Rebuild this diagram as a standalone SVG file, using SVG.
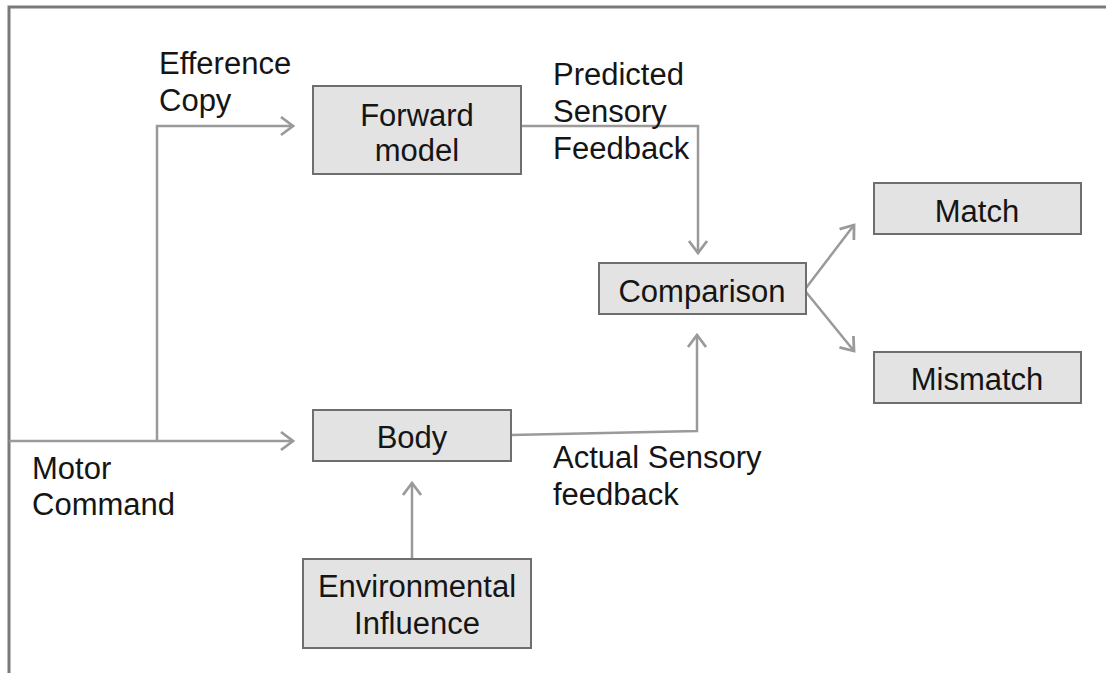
<svg xmlns="http://www.w3.org/2000/svg" width="1106" height="673" viewBox="0 0 1106 673">
<style>
.box{fill:#e3e3e3;stroke:#6e6e6e;stroke-width:2}
.t{font-family:"Liberation Sans",Arial,sans-serif;font-size:31px;fill:#151515}
.c{fill:none;stroke:#9a9a9a;stroke-width:2.5}
</style>
<defs>
<marker id="ah" markerUnits="userSpaceOnUse" markerWidth="20" markerHeight="24" refX="13" refY="10" orient="auto" viewBox="0 0 20 20">
<path d="M1,1 L13,10 L1,19" fill="none" stroke="#9a9a9a" stroke-width="2.8"/>
</marker>
</defs>
<rect width="1106" height="673" fill="#fff"/>
<path d="M9,673 L9,7 L1106,7" fill="none" stroke="#7a7a7a" stroke-width="3"/>
<g id="connectors">
<path class="c" d="M9,441 L293,441" marker-end="url(#ah)"/>
<path class="c" d="M157,441 L157,126 L293,126" marker-end="url(#ah)"/>
<path class="c" d="M521,126 L698,126 L698,253" marker-end="url(#ah)"/>
<path class="c" d="M511,435 L697,431 L697,335" marker-end="url(#ah)"/>
<path class="c" d="M412,559 L412,483" marker-end="url(#ah)"/>
<path class="c" d="M806,288 L854,225" marker-end="url(#ah)"/>
<path class="c" d="M806,292 L854,351" marker-end="url(#ah)"/>
</g>
<g id="labels">
<text class="t" x="159" y="74">Efference</text>
<text class="t" x="159" y="111">Copy</text>
<text class="t" x="553" y="85">Predicted</text>
<text class="t" x="553" y="122">Sensory</text>
<text class="t" x="553" y="159">Feedback</text>
<text class="t" x="32" y="479">Motor</text>
<text class="t" x="32" y="515">Command</text>
<text class="t" x="553" y="468">Actual Sensory</text>
<text class="t" x="553" y="505">feedback</text>
</g>
<g id="forward">
<rect class="box" x="313" y="86" width="208" height="88"/>
<text class="t" x="417" y="126" text-anchor="middle">Forward</text>
<text class="t" x="417" y="161" text-anchor="middle">model</text>
</g>
<g id="body">
<rect class="box" x="313" y="410" width="198" height="51"/>
<text class="t" x="412" y="448" text-anchor="middle">Body</text>
</g>
<g id="environment">
<rect class="box" x="303" y="559" width="228" height="89"/>
<text class="t" x="417" y="597" text-anchor="middle">Environmental</text>
<text class="t" x="417" y="634" text-anchor="middle">Influence</text>
</g>
<g id="comparison">
<rect class="box" x="599" y="263" width="207" height="51"/>
<text class="t" x="702" y="302" text-anchor="middle">Comparison</text>
</g>
<g id="match">
<rect class="box" x="874" y="183" width="207" height="51"/>
<text class="t" x="977" y="222" text-anchor="middle">Match</text>
</g>
<g id="mismatch">
<rect class="box" x="874" y="352" width="207" height="51"/>
<text class="t" x="977" y="390" text-anchor="middle">Mismatch</text>
</g>
</svg>
